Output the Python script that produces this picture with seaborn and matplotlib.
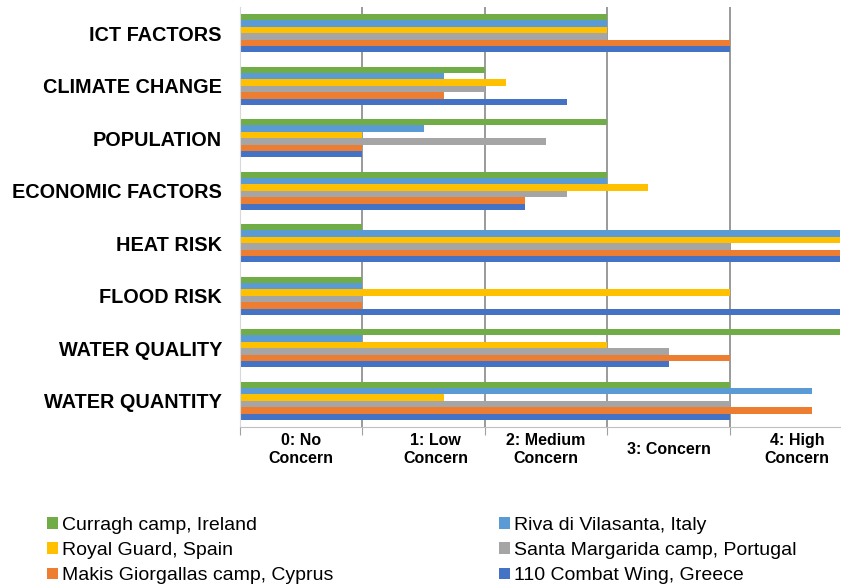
import pandas as pd
import seaborn as sns
import matplotlib.pyplot as plt

# data
factors = ['ICT FACTORS', 'CLIMATE CHANGE', 'POPULATION', 'ECONOMIC FACTORS',
           'HEAT RISK', 'FLOOD RISK', 'WATER QUALITY', 'WATER QUANTITY']
sites = ['Curragh camp, Ireland', 'Riva di Vilasanta, Italy', 'Royal Guard, Spain',
         'Santa Margarida camp, Portugal', 'Makis Giorgallas camp, Cyprus',
         '110 Combat Wing, Greece']
curragh = [3, 2, 3, 3, 1, 1, 5, 4]
riva = [3, 1.67, 1.5, 3, 5, 1, 1, 4.67]
royal = [3, 2.17, 1, 3.33, 5, 4, 3, 1.67]
santa = [3, 2, 2.5, 2.67, 4, 1, 3.5, 4]
makis = [4, 1.67, 1, 2.33, 5, 1, 4, 4.67]
combat = [4, 2.67, 1, 2.33, 5, 5, 3.5, 4]
xlabels = ['0: No\nConcern', '1: Low\nConcern', '2: Medium\nConcern', '3: Concern', '4: High\nConcern']
xlabel_pos = [0.5, 1.6, 2.5, 3.5, 4.55]

colors = ['#70AD47', '#5B9BD5', '#FFC000', '#A5A5A5', '#ED7D31', '#4472C4']

rows = []
for site, vals in zip(sites, [curragh, riva, royal, santa, makis, combat]):
    for f, v in zip(factors, vals):
        rows.append({'factor': f, 'site': site, 'score': v})
df = pd.DataFrame(rows)

sns.set_style('white')
plt.rcParams['font.family'] = ['Liberation Sans', 'DejaVu Sans']

fig = plt.figure(figsize=(8.41, 5.85), dpi=100)
ax = fig.add_axes([240 / 841, 1 - 427 / 585, 600 / 841, 420 / 585])

sns.barplot(data=df, x='score', y='factor', hue='site', orient='h',
            palette=colors, saturation=1, linewidth=0, width=0.73,
            order=factors, hue_order=sites, ax=ax)

handles, labels = ax.get_legend_handles_labels()
ax.get_legend().remove()

ax.set_xlim(0, 4.9)
ax.set_ylim(len(factors) - 0.5, -0.5)
ax.set_xlabel('')
ax.set_ylabel('')

# gridlines at integer scores, labels between them
ax.set_xticks(range(5))
ax.set_xticklabels([])
ax.set_xticks(xlabel_pos, labels=xlabels, minor=True)
ax.tick_params(axis='x', which='major', length=6, color='#A0A0A0', bottom=True)
ax.tick_params(axis='x', which='minor', length=0, pad=16)
for t in ax.get_xticklabels(minor=True):
    t.set_fontweight('bold')
    t.set_fontsize(11.5)
    t.set_linespacing(1.25)
    t.set_verticalalignment('center')
    t.set_color('black')
ax.xaxis.grid(True, which='major', color='#7F7F7F', linewidth=1.1)
ax.set_axisbelow(True)

ax.tick_params(axis='y', length=0, pad=13)
for t in ax.get_yticklabels():
    t.set_fontweight('bold')
    t.set_fontsize(14.3)
    t.set_color('black')

for s in ['top', 'right']:
    ax.spines[s].set_visible(False)
ax.spines['left'].set_color('#D9D9D9')
ax.spines['bottom'].set_color('#BFBFBF')

# legend in two columns, row-major like the original
kw = dict(frameon=False, fontsize=14, handlelength=0.55, handleheight=0.55,
          handletextpad=0.2, labelspacing=0.42, borderpad=0, borderaxespad=0,
          loc='upper left', labelcolor='black')
fig.legend(handles[0::2], labels[0::2], bbox_to_anchor=(47 / 841, 1 - 517 / 585), **kw)
fig.legend(handles[1::2], labels[1::2], bbox_to_anchor=(499 / 841, 1 - 517 / 585), **kw)

fig.savefig('out.png', dpi=100)
